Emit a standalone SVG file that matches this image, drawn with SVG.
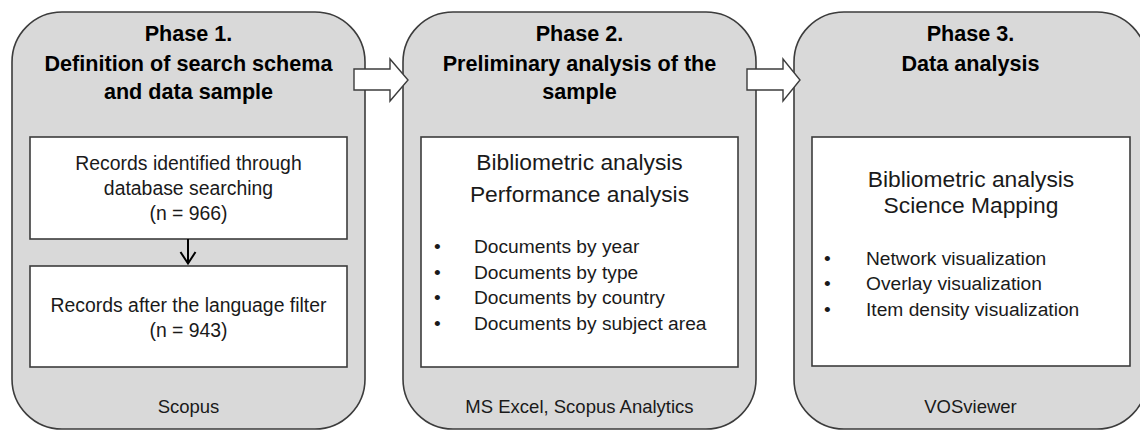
<svg xmlns="http://www.w3.org/2000/svg" width="1140" height="430" viewBox="0 0 1140 430">
<style>
.phase{fill:#d9d9d9;stroke:#3c3c3c;stroke-width:1.6}
.inner{fill:#ffffff;stroke:#3c3c3c;stroke-width:1.6}
.blk{fill:#ffffff;stroke:#3c3c3c;stroke-width:1.4;stroke-linejoin:miter}
.conn{fill:none;stroke:#000;stroke-width:2}
text{font-family:"Liberation Sans",Arial,sans-serif;fill:#1a1a1a}
.t{font-weight:bold;font-size:21.6px;text-anchor:middle;fill:#000}
.h{font-size:22.8px;text-anchor:middle}
.b{font-size:19.4px;text-anchor:middle}
.li{font-size:19.2px}
.f{font-size:18.5px;text-anchor:middle}
</style>
<g id="phase1">
<rect class="phase" x="12" y="12" width="353" height="417" rx="50" ry="50"/>
<text class="t" x="188.5" y="41">Phase 1.</text>
<text class="t" x="188.5" y="71">Definition of search schema</text>
<text class="t" x="188.5" y="99">and data sample</text>
<text class="f" x="188.5" y="413">Scopus</text>
</g>
<g id="phase2">
<rect class="phase" x="403" y="12" width="353" height="417" rx="50" ry="50"/>
<text class="t" x="579.5" y="41">Phase 2.</text>
<text class="t" x="579.5" y="71">Preliminary analysis of the</text>
<text class="t" x="579.5" y="99">sample</text>
<text class="f" x="579.5" y="413">MS Excel, Scopus Analytics</text>
</g>
<g id="phase3">
<rect class="phase" x="794" y="12" width="353" height="417" rx="50" ry="50"/>
<text class="t" x="970.5" y="41">Phase 3.</text>
<text class="t" x="970.5" y="71">Data analysis</text>
<text class="f" x="970.5" y="413">VOSviewer</text>
</g>
<g id="records-identified">
<rect class="inner" x="30" y="137" width="317" height="102"/>
<text class="b" x="188.5" y="170">Records identified through</text>
<text class="b" x="188.5" y="195">database searching</text>
<text class="b" x="188.5" y="220">(n = 966)</text>
</g>
<g id="records-filtered">
<rect class="inner" x="30" y="266" width="317" height="101"/>
<text class="b" x="188.5" y="312">Records after the language filter</text>
<text class="b" x="188.5" y="337">(n = 943)</text>
</g>
<g id="performance">
<rect class="inner" x="421" y="137" width="317" height="230"/>
<text class="h" x="579.5" y="170">Bibliometric analysis</text>
<text class="h" x="579.5" y="202">Performance analysis</text>
<text class="li" x="434" y="253">•</text><text class="li" x="474" y="253">Documents by year</text>
<text class="li" x="434" y="279">•</text><text class="li" x="474" y="279">Documents by type</text>
<text class="li" x="434" y="304">•</text><text class="li" x="474" y="304">Documents by country</text>
<text class="li" x="434" y="330">•</text><text class="li" x="474" y="330">Documents by subject area</text>
</g>
<g id="science-mapping">
<rect class="inner" x="812" y="137" width="318" height="229"/>
<text class="h" x="971" y="187">Bibliometric analysis</text>
<text class="h" x="971" y="213">Science Mapping</text>
<text class="li" x="824" y="265">•</text><text class="li" x="866" y="265">Network visualization</text>
<text class="li" x="824" y="290">•</text><text class="li" x="866" y="290">Overlay visualization</text>
<text class="li" x="824" y="316">•</text><text class="li" x="866" y="316">Item density visualization</text>
</g>
<g id="connectors">
<polygon class="blk" points="354,69 390,69 390,59 408,80 390,101 390,90 354,90"/>
<polygon class="blk" points="747,69 783,69 783,59 800,80 783,101 783,90 747,90"/>
<line class="conn" x1="188" y1="239" x2="188" y2="263"/>
<polyline class="conn" points="180.5,252 188,263.5 195.5,252"/>
</g>
</svg>
